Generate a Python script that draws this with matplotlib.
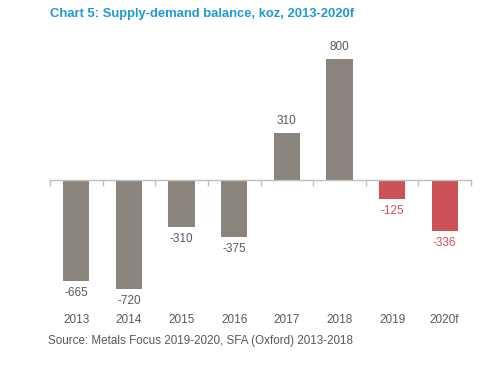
import matplotlib
matplotlib.use("Agg")
import matplotlib.pyplot as plt
from matplotlib.transforms import blended_transform_factory

categories = ["2013", "2014", "2015", "2016", "2017", "2018", "2019", "2020f"]
values = [-665, -720, -310, -375, 310, 800, -125, -336]
forecast = [False, False, False, False, False, False, True, True]

grey = "#8B847D"
red = "#CD5257"
text_grey = "#595959"
title_blue = "#1E9AD6"

plt.rcParams['font.family'] = ['Liberation Sans', 'DejaVu Sans']

fig = plt.figure(figsize=(5.01, 3.74), dpi=100)
W, H = 501, 374
top_px, bot_px = 40, 310
ax = fig.add_axes([50 / W, 1 - bot_px / H, 421 / W, (bot_px - top_px) / H])

x = list(range(len(categories)))
colors = [red if f else grey for f in forecast]
ax.bar(x, values, width=0.5, color=colors, zorder=2)

scale = 0.1515  # px per unit
ax.set_ylim(-(bot_px - 180) / scale, (180 - top_px) / scale)
ax.set_xlim(-0.5, len(categories) - 0.5)

for xi, v, f in zip(x, values, forecast):
    c = red if f else text_grey
    if v >= 0:
        ax.annotate(str(v), (xi, v), xytext=(0, 4.5), textcoords="offset points",
                    ha="center", va="bottom", fontsize=8.5, color=c)
    else:
        ax.annotate(str(v), (xi, v), xytext=(0, -4.5), textcoords="offset points",
                    ha="center", va="top", fontsize=8.5, color=c)

for s in ["top", "right", "left"]:
    ax.spines[s].set_visible(False)
ax.spines["bottom"].set_position(("data", 0))
ax.spines["bottom"].set_color("#BFBFBF")
ax.spines["bottom"].set_linewidth(1.0)
ax.set_yticks([])
ax.set_xticks([i - 0.5 for i in range(len(categories) + 1)])
ax.set_xticklabels([])
ax.tick_params(axis="x", direction="out", length=4, color="#BFBFBF", width=1)

trans = blended_transform_factory(ax.transData, fig.transFigure)
for xi, c in zip(x, categories):
    ax.text(xi, 1 - 320 / H, c, transform=trans, ha="center", va="center",
            fontsize=8.5, color=text_grey)

fig.text(50 / W, 1 - 14 / H, "Chart 5: Supply-demand balance, koz, 2013-2020f",
         ha="left", va="center", fontsize=9.4, fontweight="bold", color=title_blue)
fig.text(48 / W, 1 - 341 / H, "Source: Metals Focus 2019-2020, SFA (Oxford) 2013-2018",
         ha="left", va="center", fontsize=8.4, color=text_grey)

fig.savefig("out.png", dpi=100)
